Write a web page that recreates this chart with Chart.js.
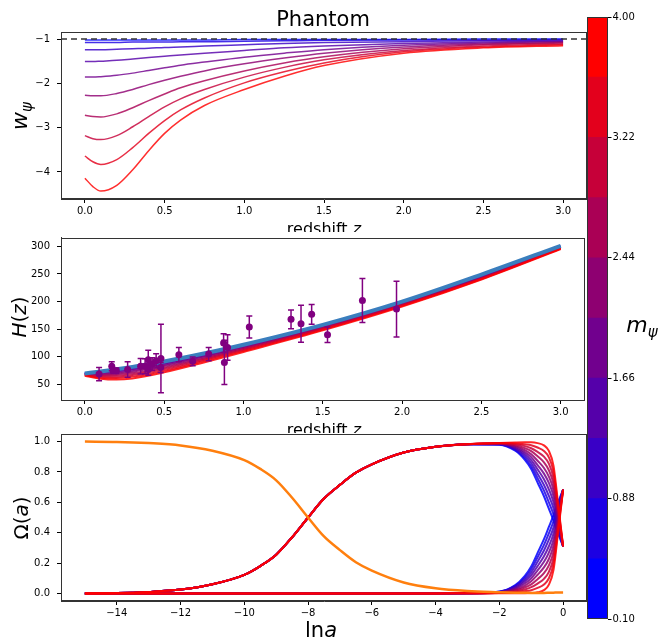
<!DOCTYPE html>
<html>
<head>
<meta charset="utf-8">
<script src="https://cdn.jsdelivr.net/npm/chart.js@4.4.1/dist/chart.umd.min.js"></script>
<style>
    body { margin: 0; background: #fff; }
    #wrap { position: relative; width: 661px; height: 639px; overflow: hidden; background: #fff; }
    canvas { position: absolute; }
</style>
</head>
<body>
<div id="wrap">
    <canvas id="c1" width="590" height="232" style="left:0;top:0"></canvas>
    <canvas id="c2" width="590" height="201" style="left:0;top:232px"></canvas>
    <canvas id="c3" width="590" height="206" style="left:0;top:433px"></canvas>
    <canvas id="cb" width="81" height="639" style="left:580px;top:0"></canvas>
</div>
<script>
// ---- panel 1: w_psi(z) ----
const zW = [0, 0.05, 0.1, 0.2, 0.3, 0.4, 0.5, 0.6, 0.75, 1.0, 1.25, 1.5, 2.0, 2.5, 3.0];
const wCurves = [
    [-1.02, -1.02, -1.02, -1.02, -1.02, -1.02, -1.02, -1.02, -1.02, -1.01, -1.01, -1.01, -1.01, -1.00, -1.00],
    [-1.08, -1.08, -1.08, -1.08, -1.07, -1.07, -1.07, -1.06, -1.06, -1.05, -1.04, -1.03, -1.02, -1.02, -1.01],
    [-1.24, -1.24, -1.24, -1.23, -1.22, -1.21, -1.19, -1.18, -1.16, -1.13, -1.10, -1.08, -1.06, -1.04, -1.03],
    [-1.51, -1.51, -1.50, -1.48, -1.45, -1.42, -1.39, -1.36, -1.32, -1.26, -1.20, -1.16, -1.10, -1.07, -1.05],
    [-1.86, -1.86, -1.85, -1.82, -1.77, -1.71, -1.65, -1.59, -1.52, -1.41, -1.32, -1.24, -1.14, -1.09, -1.06],
    [-2.27, -2.28, -2.28, -2.23, -2.14, -2.03, -1.93, -1.84, -1.72, -1.56, -1.43, -1.32, -1.18, -1.11, -1.08],
    [-2.72, -2.75, -2.76, -2.69, -2.55, -2.39, -2.24, -2.10, -1.94, -1.72, -1.54, -1.40, -1.22, -1.13, -1.09],
    [-3.18, -3.25, -3.27, -3.18, -2.98, -2.75, -2.53, -2.35, -2.14, -1.86, -1.64, -1.47, -1.26, -1.16, -1.11],
    [-3.64, -3.77, -3.83, -3.72, -3.45, -3.13, -2.84, -2.60, -2.33, -1.99, -1.74, -1.54, -1.29, -1.18, -1.13],
    [-4.14, -4.33, -4.43, -4.30, -3.95, -3.52, -3.13, -2.83, -2.50, -2.14, -1.84, -1.60, -1.32, -1.20, -1.15]
];
const wDivide = -1;
const zLimits = [-0.15, 3.15];
const zTicks = [0, 0.5, 1.0, 1.5, 2.0, 2.5, 3.0];
const wLimits = [-4.61, -0.842];
const wTicks = [-4, -3, -2, -1];

// ---- panel 2: H(z) ----
const zH = [0, 0.1, 0.2, 0.3, 0.5, 0.75, 1.0, 1.5, 2.0, 2.5, 3.0];
const hzLcdm = [70, 73.6, 77.6, 81.9, 91.6, 106, 122, 158, 200, 249, 301];
const hzCurves = [
    [70.0, 73.5, 77.3, 81.5, 91.0, 105.0, 121.0, 157.0, 199.0, 245.0, 300.0],
    [69.9, 73.1, 76.8, 80.9, 90.4, 104.5, 120.6, 156.7, 198.8, 244.8, 299.8],
    [69.7, 72.5, 75.8, 79.9, 89.5, 103.8, 120.0, 156.3, 198.4, 244.6, 299.6],
    [69.4, 71.4, 74.4, 78.2, 88.0, 102.6, 119.1, 155.6, 197.7, 244.2, 299.2],
    [68.9, 70.0, 72.4, 76.0, 85.9, 101.0, 117.8, 154.6, 196.8, 243.7, 298.7],
    [68.4, 68.3, 70.0, 73.3, 83.4, 99.0, 116.2, 153.4, 195.8, 243.0, 298.0],
    [67.8, 66.4, 67.2, 70.2, 80.6, 96.8, 114.4, 152.0, 194.6, 242.3, 297.3],
    [67.2, 64.5, 64.7, 67.4, 77.9, 94.7, 112.7, 150.8, 193.5, 241.6, 296.6],
    [66.6, 62.6, 61.9, 64.3, 75.0, 92.4, 110.9, 149.4, 192.3, 240.8, 295.8],
    [66.0, 60.5, 59.0, 61.0, 72.0, 90.0, 109.0, 148.0, 191.0, 240.0, 295.0]
];
const hzObsZ = [0.09, 0.17, 0.179, 0.199, 0.27, 0.352, 0.3802, 0.4, 0.4004, 0.4247, 0.4497, 0.4783, 0.48,
    0.593, 0.68, 0.781, 0.875, 0.88, 0.9, 1.037, 1.3, 1.363, 1.43, 1.53, 1.75, 1.965];
const hzObs = [69, 83, 75, 75, 77, 83, 83, 95, 77, 87.1, 92.8, 80.9, 97,
    104, 92, 105, 125, 90, 117, 154, 168, 160, 177, 140, 202, 186.5];
const hzErr = [12, 8, 4, 5, 14, 14, 13.5, 17, 10.2, 11.2, 12.9, 9, 62,
    13, 8, 12, 17, 40, 23, 20, 17, 33.6, 18, 14, 40, 50.4];
const hLimits = [22, 316];
const hTicks = [50, 100, 150, 200, 250, 300];

// ---- panel 3: Omega(a) ----
const lnEarly = [-15, -14, -13, -12, -11, -10, -9.5, -9, -8.5, -8, -7.5, -7, -6.5, -6, -5, -4];
const radEarly = [1.0, 0.998, 0.99, 0.975, 0.94, 0.878, 0.82, 0.745, 0.63, 0.5, 0.375, 0.285, 0.205, 0.15, 0.072, 0.034];
const matEarly = [0.0, 0.002, 0.01, 0.025, 0.06, 0.122, 0.18, 0.255, 0.37, 0.5, 0.625, 0.715, 0.795, 0.85, 0.928, 0.966];
const deEarly = [0, 0, 0, 0, 0, 0, 0, 0, 0, 0, 0, 0, 0, 0, 0, 0];
const lnLate = [-3, -2, -1.5, -1.2, -1.0, -0.8, -0.6, -0.45, -0.3, -0.15, 0];
const radLate = [0.016, 0.008, 0.005, 0.004, 0.003, 0.003, 0.003, 0.004, 0.005, 0.006, 0.006];
const matLate = [
    [0.983, 0.980, 0.940, 0.880, 0.820, 0.730, 0.640, 0.560, 0.48, 0.390, 0.31],
    [0.983, 0.981, 0.946, 0.893, 0.839, 0.759, 0.677, 0.602, 0.52, 0.411, 0.31],
    [0.983, 0.982, 0.952, 0.906, 0.859, 0.788, 0.714, 0.644, 0.56, 0.432, 0.31],
    [0.983, 0.984, 0.958, 0.918, 0.878, 0.817, 0.752, 0.687, 0.60, 0.453, 0.31],
    [0.983, 0.985, 0.964, 0.931, 0.898, 0.845, 0.789, 0.729, 0.64, 0.474, 0.31],
    [0.983, 0.986, 0.970, 0.944, 0.917, 0.874, 0.826, 0.771, 0.68, 0.496, 0.31],
    [0.983, 0.987, 0.976, 0.957, 0.937, 0.903, 0.863, 0.813, 0.72, 0.517, 0.31],
    [0.983, 0.989, 0.982, 0.970, 0.956, 0.932, 0.901, 0.856, 0.76, 0.538, 0.31],
    [0.983, 0.990, 0.988, 0.982, 0.976, 0.961, 0.938, 0.898, 0.80, 0.559, 0.31],
    [0.983, 0.991, 0.994, 0.995, 0.995, 0.990, 0.975, 0.940, 0.84, 0.580, 0.31]
];
const deLate = [
    [0.001, 0.012, 0.055, 0.116, 0.177, 0.267, 0.357, 0.436, 0.515, 0.604, 0.684],
    [0.001, 0.011, 0.049, 0.103, 0.158, 0.238, 0.320, 0.394, 0.475, 0.583, 0.684],
    [0.001, 0.010, 0.043, 0.090, 0.138, 0.209, 0.283, 0.352, 0.435, 0.562, 0.684],
    [0.001, 0.008, 0.037, 0.078, 0.119, 0.180, 0.245, 0.309, 0.395, 0.541, 0.684],
    [0.001, 0.007, 0.031, 0.065, 0.099, 0.152, 0.208, 0.267, 0.355, 0.520, 0.684],
    [0.001, 0.006, 0.025, 0.052, 0.080, 0.123, 0.171, 0.225, 0.315, 0.498, 0.684],
    [0.001, 0.005, 0.019, 0.039, 0.060, 0.094, 0.134, 0.183, 0.275, 0.477, 0.684],
    [0.001, 0.003, 0.013, 0.026, 0.041, 0.065, 0.096, 0.140, 0.235, 0.456, 0.684],
    [0.001, 0.002, 0.007, 0.014, 0.021, 0.036, 0.059, 0.098, 0.195, 0.435, 0.684],
    [0.001, 0.001, 0.001, 0.001, 0.002, 0.007, 0.022, 0.056, 0.155, 0.414, 0.684]
];
const lnLimits = [-15.75, 0.75];
const lnTicks = [-14, -12, -10, -8, -6, -4, -2, 0];
const omLimits = [-0.05, 1.05];
const omTicks = [0, 0.2, 0.4, 0.6, 0.8, 1.0];

// ---- colorbar: m_psi ----
const mBounds = [0.10, 0.49, 0.88, 1.27, 1.66, 2.05, 2.44, 2.83, 3.22, 3.61, 4.00];
const mTicks = [0.10, 0.88, 1.66, 2.44, 3.22, 4.00];

const FONT = '"DejaVu Sans"';
const tickFont = { family: "DejaVu Sans", size: 10 };

function cmap(k, alpha) {
    let t = k / 9;
    return "rgba(" + Math.round(255 * t) + ",0," + Math.round(255 * (1 - t)) + "," + alpha + ")";
}

function zip(xs, ys) {
    return xs.map((x, i) => ({ x: x, y: ys[i] }));
}

function line(data, color, width) {
    return {
        data: data,
        showLine: true,
        borderColor: color,
        borderWidth: width,
        pointRadius: 0,
        fill: false,
        cubicInterpolationMode: "monotone"
    };
}

function fmt(d) {
    return (v) => (v < 0 ? "\u2212" : "") + Math.abs(v).toFixed(d);
}

function gridOpts() {
    return { drawOnChartArea: false, drawTicks: true, tickLength: 4, tickColor: "#000" };
}

function axisX(lim, ticks, d, h) {
    return {
        type: "linear",
        min: lim[0],
        max: lim[1],
        afterBuildTicks: (s) => { s.ticks = ticks.map((v) => ({ value: v })); },
        afterFit: (s) => { s.height = h; s.paddingLeft = 0; s.paddingRight = 0; },
        ticks: { callback: fmt(d), color: "#000", font: tickFont, padding: 2, maxRotation: 0, autoSkip: false },
        grid: gridOpts(),
        border: { display: true, color: "#333" }
    };
}

function axisY(lim, ticks, d, w) {
    return {
        type: "linear",
        min: lim[0],
        max: lim[1],
        afterBuildTicks: (s) => { s.ticks = ticks.map((v) => ({ value: v })); },
        afterFit: (s) => { s.width = w; s.paddingTop = 0; s.paddingBottom = 0; },
        ticks: { callback: fmt(d), color: "#000", font: tickFont, padding: 7, autoSkip: false },
        grid: gridOpts(),
        border: { display: true, color: "#333" }
    };
}

function drawRich(ctx, parts, x, y, rot) {
    ctx.save();
    ctx.translate(x, y);
    if (rot) {
        ctx.rotate(rot);
    }
    ctx.fillStyle = "#000";
    ctx.textBaseline = "alphabetic";
    ctx.textAlign = "left";
    let total = 0;
    parts.forEach((p) => { ctx.font = p[1]; total += ctx.measureText(p[0]).width; });
    let cx = -total / 2;
    parts.forEach((p) => {
        ctx.font = p[1];
        ctx.fillText(p[0], cx, p[2] || 0);
        cx += ctx.measureText(p[0]).width;
    });
    ctx.restore();
}

function decorations(labels) {
    return {
        id: "decorations",
        afterDraw(chart) {
            let a = chart.chartArea;
            let ctx = chart.ctx;
            ctx.save();
            ctx.strokeStyle = "#333";
            ctx.lineWidth = 1;
            ctx.strokeRect(Math.round(a.left) + 0.5, Math.round(a.top) + 0.5,
                Math.round(a.right - a.left) - 1, Math.round(a.bottom - a.top) - 1);
            ctx.restore();
            labels.forEach((l) => drawRich(ctx, l.parts, l.x, l.y, l.rot));
        }
    };
}

function baseOptions(xs, ys, pad) {
    return {
        responsive: false,
        animation: false,
        devicePixelRatio: 1,
        layout: { padding: pad },
        plugins: { legend: { display: false }, tooltip: { enabled: false } },
        scales: { x: xs, y: ys }
    };
}

const UP = -Math.PI / 2;

// Chart.js paints dataset 0 last, so lists are built bottom-to-top and reversed

// panel 1
let ds1 = wCurves.map((ys, k) => line(zip(zW, ys), cmap(k, 0.82), 1.5));
let divide = line(zip(zLimits, [wDivide, wDivide]), "#333", 1.5);
divide.borderDash = [6, 4];
ds1.push(divide);

new Chart(document.getElementById("c1"), {
    type: "scatter",
    data: { datasets: ds1.reverse() },
    options: baseOptions(axisX(zLimits, zTicks, 1, 33), axisY(wLimits, wTicks, 0, 61),
        { top: 32, right: 3, left: 0, bottom: 0 }),
    plugins: [decorations([
        { parts: [["Phantom", "21px " + FONT]], x: 323, y: 26 },
        { parts: [["redshift ", "16px " + FONT], ["z", "italic 16px " + FONT]], x: 324, y: 234 },
        { parts: [["w", "italic 22px " + FONT], ["\u03c8", "italic 15px " + FONT, 5]], x: 27, y: 116, rot: UP }
    ])]
});

// panel 2
let ds2 = hzCurves.map((ys, k) => line(zip(zH, ys), cmap(k, 0.85), 2));
ds2.push(line(zip(zH, hzLcdm), "rgb(58,126,190)", 4));
let errData = [];
hzObsZ.forEach((z, i) => {
    errData.push({ x: z, y: hzObs[i] - hzErr[i] });
    errData.push({ x: z, y: hzObs[i] + hzErr[i] });
    errData.push({ x: z, y: null });
});
ds2.push({
    data: errData,
    showLine: true,
    spanGaps: false,
    borderColor: "#800080",
    borderWidth: 1.5,
    pointStyle: "line",
    pointRadius: 3,
    pointBorderColor: "#800080",
    pointBorderWidth: 1.5
});
ds2.push({
    data: zip(hzObsZ, hzObs),
    pointRadius: 3.5,
    pointBackgroundColor: "#800080",
    pointBorderColor: "#800080",
    pointBorderWidth: 0
});

new Chart(document.getElementById("c2"), {
    type: "scatter",
    data: { datasets: ds2.reverse() },
    options: baseOptions(axisX(zLimits, zTicks, 1, 33), axisY(hLimits, hTicks, 0, 61),
        { top: 1, right: 3, left: 0, bottom: 0 }),
    plugins: [decorations([
        { parts: [["redshift ", "16px " + FONT], ["z", "italic 16px " + FONT]], x: 324, y: 203 },
        { parts: [["H", "italic 20px " + FONT], ["(", "20px " + FONT], ["z", "italic 20px " + FONT], [")", "20px " + FONT]],
            x: 26, y: 85, rot: UP }
    ])]
});

// panel 3
let ds3 = [];
matLate.forEach((ys, k) => {
    ds3.push(line(zip(lnEarly, matEarly).concat(zip(lnLate, ys)), cmap(k, 0.85), 2));
    ds3.push(line(zip(lnEarly, deEarly).concat(zip(lnLate, deLate[k])), cmap(k, 0.85), 2));
});
ds3.push(line(zip(lnEarly, radEarly).concat(zip(lnLate, radLate)), "#ff7f0e", 2.5));

new Chart(document.getElementById("c3"), {
    type: "scatter",
    data: { datasets: ds3.reverse() },
    options: baseOptions(axisX(lnLimits, lnTicks, 0, 38), axisY(omLimits, omTicks, 1, 61),
        { top: 1, right: 3, left: 0, bottom: 0 }),
    plugins: [decorations([
        { parts: [["ln", "21px " + FONT], ["a", "italic 21px " + FONT]], x: 321, y: 204 },
        { parts: [["\u03a9(", "20px " + FONT], ["a", "italic 20px " + FONT], [")", "20px " + FONT]],
            x: 28, y: 85, rot: UP }
    ])]
});

// colorbar
let dsBar = [];
for (let k = 0; k < mBounds.length - 1; k++) {
    dsBar.push({
        data: [[mBounds[k], mBounds[k + 1]]],
        backgroundColor: cmap(k, 1),
        borderWidth: 0,
        barPercentage: 1,
        categoryPercentage: 1,
        grouped: false
    });
}

new Chart(document.getElementById("cb"), {
    type: "bar",
    data: { labels: [""], datasets: dsBar },
    options: {
        responsive: false,
        animation: false,
        devicePixelRatio: 1,
        layout: { padding: { top: 17, bottom: 20, left: 7, right: 0 } },
        plugins: { legend: { display: false }, tooltip: { enabled: false } },
        scales: {
            x: { display: false },
            y: {
                type: "linear",
                position: "right",
                min: mBounds[0],
                max: mBounds[mBounds.length - 1],
                afterBuildTicks: (s) => { s.ticks = mTicks.map((v) => ({ value: v })); },
                afterFit: (s) => { s.width = 53; s.paddingTop = 0; s.paddingBottom = 0; },
                ticks: { callback: fmt(2), color: "#000", font: tickFont, padding: 1, autoSkip: false },
                grid: { drawOnChartArea: false, drawTicks: true, tickLength: 3.5, tickColor: "#000" },
                border: { display: false }
            }
        }
    },
    plugins: [decorations([
        { parts: [["m", "italic 22px " + FONT], ["\u03c8", "italic 15px " + FONT, 5]], x: 62, y: 332 }
    ])]
});
</script>
</body>
</html>
